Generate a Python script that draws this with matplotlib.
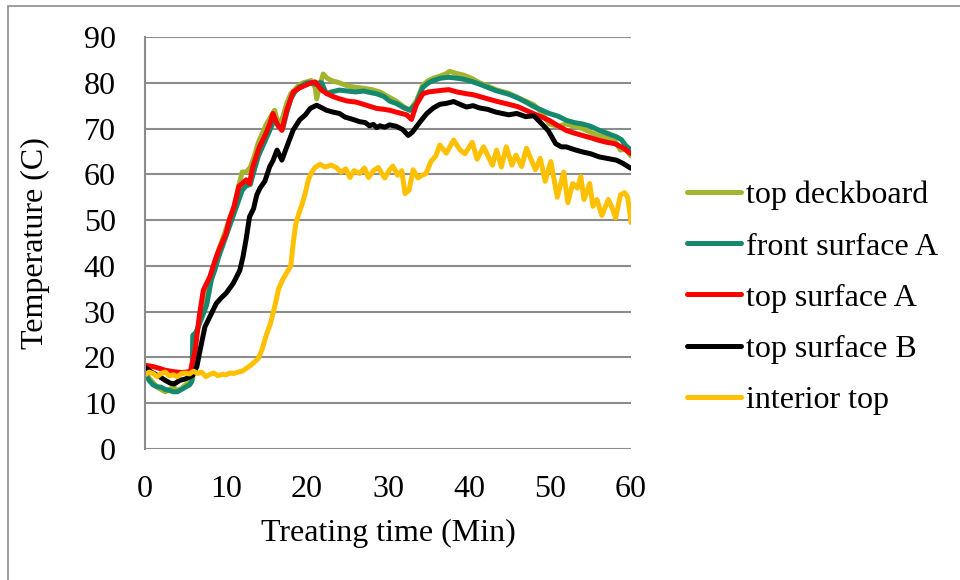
import matplotlib
matplotlib.use("Agg")
import matplotlib.pyplot as plt
from matplotlib.patches import Rectangle

plt.rcParams["font.family"] = ["Liberation Serif", "DejaVu Serif"]

# Logged temperatures (C) against treating time (min) for each sensor
t_deck = [0, 0.5, 1, 1.5, 2, 2.5, 3, 3.5, 4, 4.5, 5, 5.5, 5.9, 6.1, 6.5, 7, 7.5, 8, 8.5, 9,
          9.5, 10, 10.5, 11, 11.5, 12, 12.5, 13, 13.5, 14, 14.5, 15, 15.5, 16, 16.5, 17, 17.5, 18, 18.5, 19,
          19.5, 20, 20.5, 21, 21.2, 21.5, 22, 22.5, 23, 24, 25, 26, 27, 28, 29, 30, 31, 32, 32.7, 33.5,
          34.3, 35, 35.6, 36.5, 37.2, 37.6, 38.5, 39.3, 40.3, 41.3, 42.3, 43.3, 44.9, 46, 47, 48, 49, 49.9, 51, 52,
          53, 54, 55, 56, 57, 58, 58.7, 59.3, 60]
top_deckboard = [17, 15.5, 14.5, 13.5, 13, 12.5, 13, 13.5, 12.8, 13.2, 14, 14.5, 15.5, 24, 26, 30.6, 34, 37, 40, 43,
                 45.5, 48, 50.5, 53, 57, 60.5, 60.5, 61.5, 64, 67, 69, 71, 72.5, 74, 70.5, 72.5, 75.5, 77.6, 78.5, 79.5,
                 80, 80.2, 80.5, 79, 76.5, 79, 81.9, 81, 80.5, 80, 79.3, 79, 78.8, 78.5, 78, 77, 76, 74.7, 74, 76,
                 79.5, 80.5, 81, 81.5, 82, 82.5, 82, 81.7, 81, 80, 79.3, 78.5, 77.7, 76.8, 76, 75.2, 73.5, 71, 70.5, 71,
                 70.5, 70, 69.2, 68.5, 68, 67.3, 65.3, 65.5, 64]

t_front = [0, 0.5, 1, 1.5, 2, 2.5, 3, 3.5, 4, 4.5, 5, 5.5, 5.8, 5.9, 6.3, 6.8, 7.2, 7.6, 8.2, 8.6,
           9.1, 9.6, 10, 10.5, 11, 11.5, 12, 12.5, 13, 13.5, 14, 14.5, 15, 15.5, 16, 16.5, 17, 17.5, 18, 18.5,
           19, 19.5, 20, 20.5, 21, 21.5, 21.8, 22.4, 23, 24, 25, 26, 27, 28, 28.6, 29.5, 30.2, 31, 32, 32.7,
           33.5, 34.3, 35, 35.6, 36.5, 37.5, 38.5, 39.3, 40.3, 41.3, 42.3, 43.3, 44.9, 46, 47, 47.9, 49, 49.9, 51, 52,
           53, 54, 55, 56.1, 57, 58.2, 58.8, 59.4, 60]
front_surface_a = [16.5, 15, 14, 13.6, 13.5, 13, 12.8, 12.5, 12.5, 13, 13.5, 14, 14.8, 24.8, 25.5, 27.7, 29.5, 31.4, 37, 39,
                   42, 44.5, 46.5, 49, 51.5, 54, 56.5, 57.5, 57.8, 61, 64, 66, 68, 70, 72, 70.5, 70, 73.5, 76.5, 78,
                   79, 79.5, 80, 80, 79.7, 80, 80, 77.6, 78, 78.4, 78.2, 78, 78.2, 77.8, 77.6, 77, 76, 75.5, 74.5, 74,
                   75.5, 79, 80, 80.5, 81, 81.2, 81, 80.8, 80.3, 79.7, 79, 78.3, 77.5, 76.7, 75.8, 74.9, 74, 73.3, 72.7, 71.8,
                   71.3, 71, 70.5, 69.6, 69, 68.2, 67.6, 66.2, 65.3]

t_top_a = [0, 1, 1.8, 2.5, 3.5, 4.5, 5.6, 6.2, 6.7, 7.2, 8, 8.8, 9.3, 10, 10.4, 11, 11.6, 12, 12.5, 12.9,
           13.3, 14.1, 14.9, 15.4, 15.8, 16.3, 16.9, 17.5, 18.3, 19, 19.6, 20.4, 21, 21.8, 22.5, 23.2, 24, 25, 26, 26.6,
           27.5, 28.6, 29.5, 30.2, 31, 32.3, 32.9, 33.5, 34.3, 35, 36.4, 37.5, 38.5, 39.7, 40.5, 41.3, 42.3, 43.3, 44.9, 46,
           47.9, 49, 49.9, 51, 52, 53, 54, 55, 56.1, 57, 58, 59, 60]
top_surface_a = [18.3, 18, 17.6, 17.2, 16.9, 16.7, 16.9, 21.6, 29, 34.7, 37.6, 42, 44.2, 47, 50, 53, 57.4, 58, 58.8, 58,
                 61.6, 65.9, 68.8, 71, 73.3, 71, 69.6, 74, 78, 78.8, 79.3, 79.9, 80.2, 78.4, 77.6, 77, 76.5, 76, 75.8, 75.5,
                 75, 74.4, 74.2, 74, 73.6, 73, 72, 75.2, 77.6, 78, 78.3, 78.5, 78, 77.6, 77.4, 77, 76.5, 76, 75.3, 74.8,
                 73.3, 72.5, 71.8, 70.6, 69.6, 69, 68.5, 68, 67.4, 67, 66.7, 65.8, 64.5]

t_top_b = [0, 0.8, 1.8, 2.5, 3.1, 3.6, 4.3, 5, 5.9, 6.4, 6.8, 7.4, 8.2, 8.8, 9.4, 10, 10.9, 11.7, 12.1, 12.5,
           12.9, 13.4, 13.8, 14.2, 14.8, 15.4, 15.8, 16.3, 16.9, 17.5, 18.3, 19.1, 19.8, 20.4, 21.2, 22.4, 23.2, 24, 24.7, 25.3,
           26, 26.5, 27.2, 27.7, 28.2, 28.6, 29, 29.6, 30.2, 31, 31.8, 32.5, 33, 33.5, 34.2, 34.8, 35.6, 36.4, 37.2, 38.1,
           39, 39.7, 40.5, 41.3, 42.3, 43.3, 44.9, 45.9, 47, 48, 49, 49.8, 50.7, 51.4, 52, 53, 54, 55, 56.1, 57,
           58.2, 59, 60]
top_surface_b = [17.8, 16.8, 15.8, 15, 14.4, 14.2, 15, 15.3, 16.1, 18, 21.6, 26.7, 29.6, 31.8, 33, 34, 36.2, 39, 42, 46,
                 50.7, 52.5, 55.5, 57, 58.5, 61.7, 63, 65.3, 63.1, 66, 69.7, 71.9, 73, 74.4, 75.1, 74, 73.6, 73.3, 72.5, 72.2,
                 71.8, 71.5, 71.3, 70.6, 70.9, 70.2, 70.6, 70.3, 70.8, 70.5, 69.8, 68.5, 69.2, 70.4, 72, 73.3, 74.5, 75.3, 75.5, 75.9,
                 75.2, 74.7, 75, 74.5, 74.2, 73.6, 73, 73.3, 72.6, 72.8, 71, 69.5, 66.7, 66, 66, 65.4, 64.9, 64.5, 63.8, 63.5,
                 63.1, 62.4, 61.3]

t_interior = [0, 0.5, 1, 1.5, 2, 2.5, 3, 3.5, 4, 4.5, 5, 5.5, 6, 6.5, 7, 7.5, 8, 8.5, 9, 9.5,
              10, 10.5, 11, 11.5, 12, 12.5, 13, 13.5, 14, 14.5, 15, 15.5, 16, 16.5, 17, 17.5, 18, 18.3, 18.6, 19,
              19.4, 19.8, 20.2, 20.6, 21, 21.6, 22.2, 23, 23.6, 24.2, 24.8, 25.3, 25.8, 26.5, 27.1, 27.6, 28.2, 28.8, 29.2, 29.6,
              30.2, 30.6, 31.2, 31.7, 32.1, 32.6, 33.1, 33.7, 34.2, 34.7, 35.3, 35.9, 36.4, 37.2, 38.1, 38.9, 39.5, 40.4, 41, 41.8,
              42.9, 43.4, 44, 44.6, 45.3, 45.8, 46.5, 47.1, 47.6, 48.2, 48.8, 49.4, 50.1, 50.9, 51.7, 52.2, 52.8, 53.4, 53.8, 54.2,
              54.9, 55.3, 55.8, 56.4, 57.2, 57.6, 58.1, 58.7, 59.2, 59.6, 60]
interior_top = [16.2, 16.8, 16.5, 15.8, 16.5, 16.8, 16, 16.2, 15.8, 16.5, 16.6, 16.4, 17, 16.5, 16.8, 15.8, 16.3, 16.6, 16, 16.3,
                16.2, 16.6, 16.5, 16.8, 17, 17.6, 18.2, 19, 19.8, 22, 25, 27.5, 31, 35, 37, 38.5, 40, 45, 49, 51.5,
                53.5, 56, 59, 60.5, 61.5, 62.2, 61.6, 62, 61.5, 60.5, 61.2, 59.3, 60.8, 60.2, 61.4, 59.3, 60.8, 61.5, 60.3, 59.2,
                61, 61.8, 59.8, 60.8, 55.8, 56.5, 61, 59.2, 59.8, 60.2, 62.8, 64, 66.4, 64.6, 67.5, 65.3, 64.5, 67, 63.3, 66,
                62, 65.3, 61.6, 66, 62, 64.2, 61.7, 65.7, 63.5, 61, 63.5, 58.5, 62.8, 55, 60.5, 53.8, 58, 57, 59.5, 54.5,
                58, 53, 54.5, 51, 54.5, 53, 50.5, 55.5, 56, 55, 49.5]

series = [
    ("top deckboard", t_deck, top_deckboard, "#a3b530"),
    ("front surface A", t_front, front_surface_a, "#14896d"),
    ("top surface A", t_top_a, top_surface_a, "#ff0000"),
    ("top surface B", t_top_b, top_surface_b, "#000000"),
    ("interior top", t_interior, interior_top, "#ffc000"),
]

fs = 23

fig = plt.figure(figsize=(9.6, 5.8), dpi=100)
ax = fig.add_axes([145 / 960, 1 - 449 / 580, 486 / 960, 412 / 580])

for label, t, temp, color in series:
    ax.plot(t, temp, color=color, lw=3.6, label=label,
            solid_joinstyle="round", solid_capstyle="round")

ax.set_xlim(0, 60)
ax.set_ylim(0, 90)
ax.set_xticks(range(0, 61, 10))
ax.set_yticks(range(0, 91, 10))
ax.yaxis.grid(True, color="#8c8c8c", lw=1.5)
ax.set_axisbelow(True)
for side in ["top", "right", "bottom"]:
    ax.spines[side].set_visible(False)
ax.spines["left"].set_color("#8c8c8c")
ax.spines["left"].set_linewidth(1.5)
ax.tick_params(axis="both", length=0, labelsize=fs)
ax.tick_params(axis="y", pad=21)
ax.tick_params(axis="x", pad=19)

ax.set_xlabel("Treating time (Min)", fontsize=fs)
ax.set_ylabel("Temperature (C)", fontsize=fs)
ax.xaxis.set_label_coords(0.5, -0.17)
ax.yaxis.set_label_coords(-0.195, 0.5)

fig.legend(loc="upper left", bbox_to_anchor=(687 / 960, 1 - 181 / 580),
           frameon=False, fontsize=fs, handlelength=1.7, handletextpad=0.15,
           labelspacing=0.68, borderpad=0, borderaxespad=0)

# outer chart border
fig.patches.append(Rectangle((8 / 960, -0.05), 1.1, 1 - 6 / 580 + 0.05,
                             transform=fig.transFigure, fill=False,
                             edgecolor="#8c8c8c", lw=1.2))

fig.savefig("out.png", dpi=100)
